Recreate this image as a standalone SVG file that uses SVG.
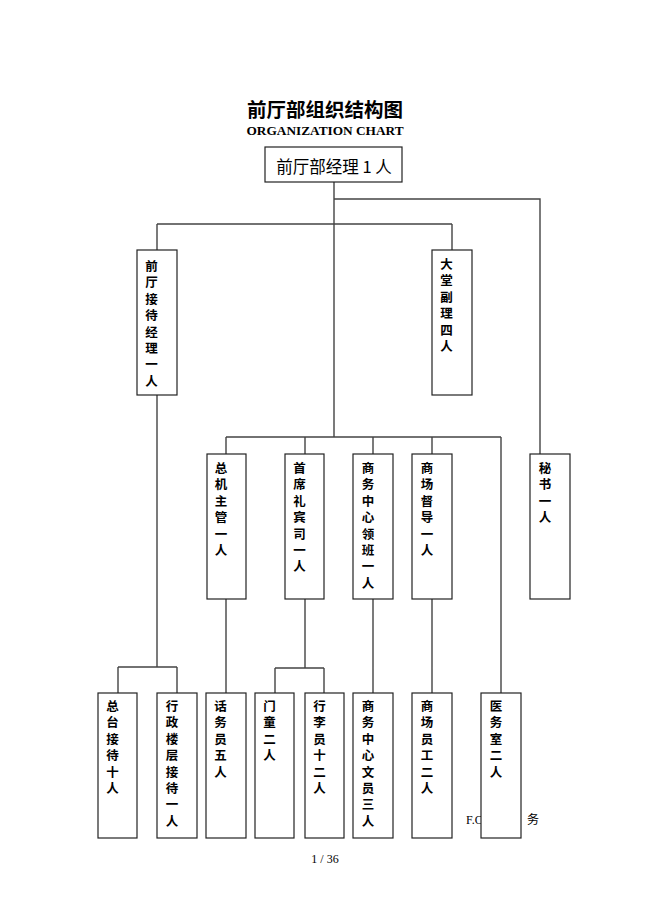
<svg xmlns="http://www.w3.org/2000/svg" width="650" height="920" viewBox="0 0 650 920">
<style>
.bx{fill:#fff;stroke:#222;stroke-width:1.2}
.ln{fill:none;stroke:#444;stroke-width:1.4}
.v{font-family:"Noto Sans CJK SC","Noto Sans CJK JP",sans-serif;font-size:12.5px;font-weight:bold;fill:#000;writing-mode:vertical-rl;letter-spacing:3.9px}
.t{font-family:"Noto Sans CJK SC",sans-serif;font-size:19.5px;font-weight:bold;fill:#000;text-anchor:middle}
.st{font-family:"Liberation Serif",serif;font-size:13.3px;font-weight:bold;fill:#000;text-anchor:middle}
.ft{font-family:"Liberation Serif","Noto Sans CJK SC",serif;font-size:12px;fill:#000}
</style>
<rect width="650" height="920" fill="#fff"/>
<text class="t" x="325" y="117">前厅部组织结构图</text>
<text class="st" x="325" y="135">ORGANIZATION CHART</text>
<text class="ft" x="466" y="824">F.C</text>
<text class="ft" x="527" y="824">务</text>
<g id="connectors">
<path class="ln" d="M334 182V437M334 199H540V454M157 224H452M157 224V250M452 224V250"/>
<path class="ln" d="M157 395V667M118 667H177M118 667V693M177 667V693"/>
<path class="ln" d="M226 437H501M226 437V454M305 437V454M373 437V454M432 437V454M501 437V693"/>
<path class="ln" d="M226 599V693M305 599V668M275 668H324M275 668V693M324 668V693M373 599V693M432 599V693"/>
</g>
<g id="n0"><rect class="bx" x="265" y="147" width="137" height="35"/><text x="334" y="173" style="font-family:'Noto Sans CJK SC',sans-serif;font-size:16.5px;text-anchor:middle">前厅部经理 1 人</text></g>
<g id="n1"><rect class="bx" x="137" y="250" width="40" height="145"/><text class="v" x="151.5" y="260">前厅接待经理一人</text></g>
<g id="n2"><rect class="bx" x="432" y="250" width="40" height="145"/><text class="v" x="446.5" y="258">大堂副理四人</text></g>
<g id="n3"><rect class="bx" x="207" y="454" width="39" height="145"/><text class="v" x="221" y="462">总机主管一人</text></g>
<g id="n4"><rect class="bx" x="285" y="454" width="39" height="145"/><text class="v" x="299.5" y="462">首席礼宾司一人</text></g>
<g id="n5"><rect class="bx" x="353" y="454" width="40" height="145"/><text class="v" x="368" y="462">商务中心领班一人</text></g>
<g id="n6"><rect class="bx" x="412" y="454" width="40" height="145"/><text class="v" x="427" y="462">商场督导一人</text></g>
<g id="n7"><rect class="bx" x="530" y="454" width="40" height="145"/><text class="v" x="545" y="462">秘书一人</text></g>
<g id="n8"><rect class="bx" x="98" y="693" width="39" height="145"/><text class="v" x="112.5" y="700">总台接待十人</text></g>
<g id="n9"><rect class="bx" x="157" y="693" width="40" height="145"/><text class="v" x="172" y="700">行政楼层接待一人</text></g>
<g id="n10"><rect class="bx" x="206" y="693" width="40" height="145"/><text class="v" x="220.5" y="700">话务员五人</text></g>
<g id="n11"><rect class="bx" x="255" y="693" width="39" height="145"/><text class="v" x="269.5" y="700">门童二人</text></g>
<g id="n12"><rect class="bx" x="305" y="693" width="39" height="145"/><text class="v" x="319.5" y="700">行李员十二人</text></g>
<g id="n13"><rect class="bx" x="353" y="693" width="40" height="145"/><text class="v" x="368" y="700">商务中心文员三人</text></g>
<g id="n14"><rect class="bx" x="412" y="693" width="40" height="145"/><text class="v" x="427" y="700">商场员工二人</text></g>
<g id="n15"><rect class="bx" x="481" y="693" width="40" height="145"/><text class="v" x="496" y="700">医务室二人</text></g>
<text x="325" y="863" style="font-family:'Liberation Serif',serif;font-size:12px;text-anchor:middle">1 / 36</text>
</svg>
